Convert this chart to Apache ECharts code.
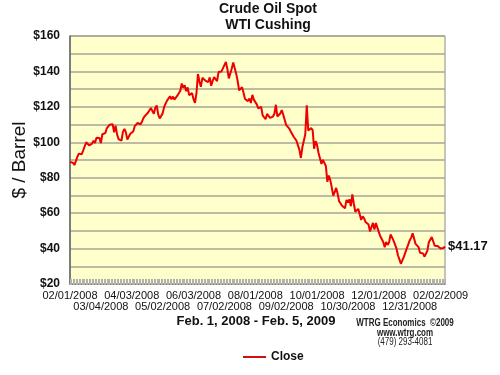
<!DOCTYPE html>
<html>
<head>
<meta charset="utf-8">
<script src="https://cdn.jsdelivr.net/npm/echarts@6/dist/echarts.min.js"></script>
<style>html,body{margin:0;padding:0;background:#fff}#c{width:500px;height:375px}</style>
</head>
<body>
<div id="c"></div>
<script>
// Trading-day calendar (NYMEX holidays excluded)
const startDate = [2008, 1, 1];   // Feb 1, 2008 (month 0-based)
const endDate = [2009, 1, 5];     // Feb 5, 2009
const holidays = ['02/18/2008','03/21/2008','05/26/2008','07/04/2008','09/01/2008','11/27/2008','12/25/2008','01/01/2009','01/19/2009'];

// WTI Cushing spot close, $/barrel, by month
const feb08 = [88.96,89.96,88.41,87.14,88.11,91.77,93.59,92.78,93.27,95.46,95.50,100.01,100.74,98.23,98.81,99.23,100.88,99.64,102.59,101.84];
const mar08 = [102.45,99.52,104.52,105.47,105.15,107.90,108.75,109.92,110.33,110.21,105.68,109.42,104.48,101.84,101.22,100.86,105.90,107.58,105.62,101.58];
const apr08 = [100.98,104.83,103.92,106.09,109.09,108.50,110.87,110.11,110.14,111.76,113.79,114.93,114.86,116.69,117.48,119.37,118.30,116.06,119.52,120.75,115.63,113.46];
const may08 = [112.52,116.32,119.97,121.84,123.53,123.69,125.96,124.23,125.80,124.12,124.12,126.29,127.05,129.07,133.17,130.81,132.19,128.85,131.03,126.62,127.35];
const jun08 = [127.76,124.31,122.30,127.79,138.54,134.35,131.31,136.38,136.74,134.86,134.61,134.01,136.68,131.93,134.62,136.74,136.80,134.55,139.64,140.21,140.00];
const jul08 = [140.97,143.57,145.29,141.37,136.04,136.05,141.65,145.08,145.18,138.74,134.60,129.29,128.88,131.04,127.95,124.44,125.49,123.26,124.73,122.19,126.77,124.08];
const aug08 = [125.10,121.41,119.17,118.58,120.02,115.20,114.45,113.01,116.00,115.01,113.77,112.87,114.53,116.10,121.18,114.59,115.03,116.27,118.15,115.59,115.46];
const sep08 = [109.71,109.35,107.89,106.23,106.34,103.26,102.58,100.87,101.18,95.71,91.15,97.16,97.88,104.55,120.92,106.61,105.73,108.02,106.89,96.37,100.64];
const oct08 = [98.53,93.97,93.88,87.81,90.06,88.95,86.59,77.70,81.19,78.63,74.54,69.85,71.85,74.25,70.89,66.75,67.81,64.15,63.22,62.73,67.50,65.96,67.81];
const nov08 = [63.91,70.53,65.30,60.77,61.04,62.41,59.33,56.16,58.24,57.04,54.95,54.39,53.62,49.62,49.93,54.50,50.77,54.44,54.43];
const dec08 = [49.28,46.96,46.79,43.67,40.81,43.71,42.07,43.52,47.98,46.28,44.51,43.60,40.06,36.22,33.87,31.41,31.99,35.35,37.71,40.02,39.03,44.60];
const jan09 = [46.17,48.58,48.58,42.63,41.70,40.83,37.59,37.78,37.28,35.40,36.51,38.74,43.55,43.67,46.47,45.73,41.58,42.16,41.44,41.68];
const feb09 = [40.08,40.78,40.32,41.17];

const closeValues = [].concat(feb08,mar08,apr08,may08,jun08,jul08,aug08,sep08,oct08,nov08,dec08,jan09,feb09);

const yTickValues = [20,40,60,80,100,120,140,160];
const labelEvery = 21;

function pad(n){return (n<10?'0':'')+n;}
const dates = [];
for (let t = Date.UTC(startDate[0],startDate[1],startDate[2]); t <= Date.UTC(endDate[0],endDate[1],endDate[2]); t += 86400000) {
  const d = new Date(t);
  const wd = d.getUTCDay();
  if (wd === 0 || wd === 6) continue;
  const s = pad(d.getUTCMonth()+1)+'/'+pad(d.getUTCDate())+'/'+d.getUTCFullYear();
  if (holidays.indexOf(s) >= 0) continue;
  dates.push(s);
}

const FONT = "'Liberation Sans', Arial, sans-serif";
const labelStyle = {fontFamily:FONT, fontSize:11, color:'#111'};
function credit(y, text, weight){
  return {type:'text', x:405, y:y, scaleX:0.8, style:{x:0, y:0, text:text, textAlign:'center', textVerticalAlign:'middle', font:weight+' 10px '+FONT, fill:'#222'}};
}
const chart = echarts.init(document.getElementById('c'), null, {renderer:'canvas'});
chart.setOption({
  animation: false,
  backgroundColor: '#ffffff',
  grid: {left:70, right:55, top:36, bottom:91, containLabel:false, outerBoundsMode:'none',
    show:true, backgroundColor:'#ffffcc', borderColor:'#8a8a8a', borderWidth:1},
  legend: {
    data:['Close'], left:238, top:346, icon:'rect', itemWidth:23, itemHeight:2, itemGap:6,
    itemStyle:{color:'#cc1111'},
    textStyle:{fontFamily:FONT, fontWeight:'bold', fontSize:12, color:'#111'}
  },
  xAxis: [{
    type:'category', data:dates, boundaryGap:false,
    axisLine:{show:true, lineStyle:{color:'#777', width:1}},
    axisTick:{show:true, inside:true, interval:0, length:5, lineStyle:{color:'#b0b0b0', width:1}},
    axisLabel:Object.assign({margin:6, showMinLabel:true, hideOverlap:false,
      interval:function(i){ return i % (2*labelEvery) === 0; }}, labelStyle),
    splitLine:{show:false}
  },{
    type:'category', data:dates, boundaryGap:false, position:'bottom',
    axisLine:{show:false},
    axisTick:{show:true, inside:false, interval:0, length:1, lineStyle:{color:'#b0b0b0', width:1}},
    axisLabel:Object.assign({margin:17, hideOverlap:false,
      interval:function(i){ return i % (2*labelEvery) === labelEvery; }}, labelStyle),
    splitLine:{show:false}
  }],
  yAxis: {
    type:'value', min:20, max:160, interval:10,
    axisLine:{show:true, lineStyle:{color:'#666', width:1.5}},
    axisTick:{show:false},
    axisLabel:{margin:10, fontFamily:FONT, fontWeight:'bold', fontSize:12, color:'#111',
      formatter:function(v){ return yTickValues.indexOf(v)>=0 ? '$'+v : ''; }},
    splitLine:{show:true, lineStyle:{color:'#a8a596', width:1.5}}
  },
  series: [{
    name:'Close', type:'line', data:closeValues, xAxisIndex:0,
    symbol:'none', lineStyle:{color:'#ee0000', width:2}, itemStyle:{color:'#ee0000'},
    endLabel:{show:true, distance:3, fontFamily:FONT, fontWeight:'bold', fontSize:13, color:'#111',
      formatter:function(p){ return '$'+p.value.toFixed(2); }}
  }],
  graphic: [
    {type:'text', x:20, y:160, rotation:Math.PI/2, style:{x:0, y:0, text:'$ / Barrel', textAlign:'center', textVerticalAlign:'middle', font:'19px '+FONT, fill:'#111'}},
    {type:'text', style:{x:268, y:9, text:'Crude Oil Spot', textAlign:'center', textVerticalAlign:'middle', font:'bold 14px '+FONT, fill:'#111'}},
    {type:'text', style:{x:268, y:25, text:'WTI Cushing', textAlign:'center', textVerticalAlign:'middle', font:'bold 14px '+FONT, fill:'#111'}},
    {type:'text', style:{x:256, y:321, text:'Feb. 1, 2008 - Feb. 5, 2009', textAlign:'center', textVerticalAlign:'middle', font:'bold 13px '+FONT, fill:'#111'}},
    credit(323, 'WTRG Economics  \u00a92009', 'bold'),
    credit(333, 'www.wtrg.com', 'bold'),
    credit(342, '(479) 293-4081', 'normal')
  ]
});
</script>
</body>
</html>
